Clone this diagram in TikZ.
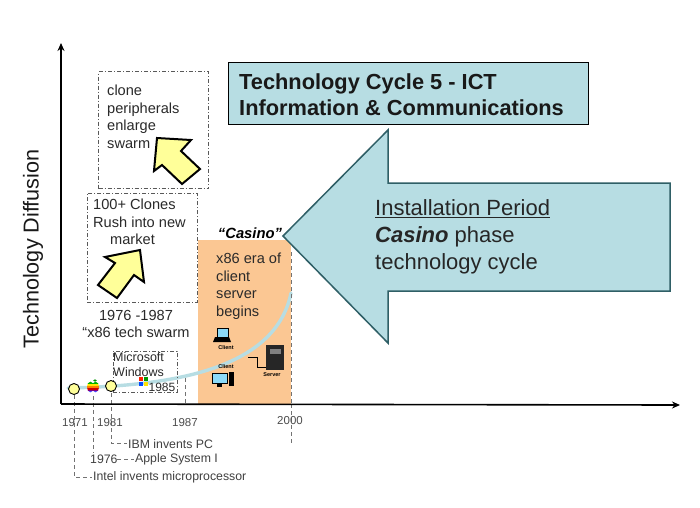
\documentclass[tikz,border=0pt]{standalone}
\usepackage{fontspec}
\setmainfont{Liberation Sans}
\usetikzlibrary{arrows.meta}
\definecolor{teal1}{HTML}{B7DDE3}
\definecolor{tealedge}{HTML}{2F5F66}
\definecolor{orng}{HTML}{FBC793}
\definecolor{yel}{HTML}{FFFF99}
\definecolor{txt}{HTML}{2A2A2A}
\tikzset{
  dashbox/.style={draw=black!65,line width=.7pt,dash pattern=on 4pt off 2pt on 1pt off 2pt},
  dline/.style={draw=black!55,line width=.7pt,dash pattern=on 4pt off 3pt},
  lbl/.style={inner sep=0pt,text=txt,font=\fontsize{14.6}{17.5}\selectfont,align=left},
  smalllbl/.style={inner sep=0pt,text=black!75,font=\fontsize{12.3}{14}\selectfont},
  tick/.style={inner sep=0pt,text=black!70,font=\fontsize{11.5}{13}\selectfont},
  yarrow/.style={draw=black,fill=yel,line width=2pt,line join=miter},
  dot/.style={circle,draw=black,fill=yel,line width=.9pt,minimum size=11pt,inner sep=0pt},
  axis/.style={draw=black,line width=1.6pt,-{Stealth[length=8pt,width=7pt]}},
  tiny/.style={inner sep=0pt,font=\bfseries\fontsize{5.5}{6}\selectfont}
}
\begin{document}
\begin{tikzpicture}[x=1pt,y=-1pt]
\useasboundingbox (0,0) rectangle (700,507);
\fill[white] (0,0) rectangle (700,507);
% orange panel
\fill[orng] (198,240) rectangle (291,404);
\coordinate (o) at (61,404);
\coordinate (ytop) at (61,43);
\coordinate (xend) at (680,405);
% curve
\coordinate (c0) at (68,388);
\coordinate (c1) at (291,293);
\draw[teal1,line width=3.4pt,line cap=round] (c0) .. controls (165,386) and (275,372) .. (c1);
% dashed boxes
\node[dashbox,minimum width=110pt,minimum height=117pt,inner sep=0pt] (b1) at (153.5,130) {};
\node[dashbox,minimum width=110pt,minimum height=109pt,inner sep=0pt] (b2) at (142,247.5) {};
\node[dashbox,minimum width=64pt,minimum height=41pt,inner sep=0pt] (b3) at (145,371.5) {};
\node[lbl,anchor=north west] (t1) at (107,85) {clone\\peripherals\\enlarge\\swarm};
\node[lbl,anchor=north west] (t2) at (93,199) {100+ Clones\\Rush into new\\\hspace{17pt}market};
\node[lbl,align=center] (t3) at (136,324) {1976 -1987\\“x86 tech swarm};
\node[lbl,anchor=north west,font=\fontsize{12.5}{15}\selectfont] (t4) at (113,352) {Microsoft\\Windows};
\node[lbl,font=\fontsize{12}{14}\selectfont] (t5) at (162,387) {1985};
\node[lbl,anchor=north west] (t6) at (216,253) {x86 era of\\client\\server\\begins};
\node[inner sep=0pt,font=\bfseries\itshape\fontsize{14.8}{17}\selectfont] (casino) at (250,233) {“Casino”};
% yellow arrows
\draw[yarrow] (157,138) -- (191,140) -- (181,151) -- (200,169) -- (182,184) -- (162,165) -- (154,171) -- cycle;
\draw[yarrow] (140,250) -- (144,282) -- (134,275) -- (117,298) -- (98,285) -- (115,263) -- (105,257) -- cycle;
% dashed leader lines
\coordinate (d71a) at (74,395); \coordinate (d71b) at (74,477);
\coordinate (d71c) at (92,477);
\coordinate (d76a) at (93,396); \coordinate (d76b) at (93,453);
\coordinate (d81a) at (111,393); \coordinate (d81b) at (111,443); \coordinate (d81c) at (127,443);
\coordinate (d87a) at (185,378); \coordinate (d87b) at (185,404);
\coordinate (d00a) at (291,404); \coordinate (d00b) at (291,443);
\coordinate (d76c) at (117,459); \coordinate (d76d) at (134,459);
\draw[dline] (d71a) -- (d71b) -- (d71c);
\draw[dline] (d76a) -- (d76b);
\draw[dline] (d81a) -- (d81b) -- (d81c);
\draw[dline] (d87a) -- (d87b);
\draw[dline] (d00a) -- (d00b);
\draw[dline] (291,252) -- (291,404);
\draw[dline] (d76c) -- (d76d);
% axes
\draw[axis] (o) -- (ytop);
\draw[axis] (o) -- (xend);
% dots
\node[dot] (n71) at (74,389) {};
\node[dot] (n81) at (111,386) {};
% apple
\fill[green!60!black] (95,380.5) ellipse (1.8pt and 1.2pt);
\begin{scope}
\clip (90.5,387) ellipse (3.6pt and 5.3pt) (95.5,387) ellipse (3.6pt and 5.3pt);
\fill[green!70!black] (87,381) rectangle (100,384);
\fill[yellow!90!orange] (87,384) rectangle (100,385.5);
\fill[orange] (87,385.5) rectangle (100,387.5);
\fill[red!80!black] (87,387.5) rectangle (100,389.5);
\fill[violet] (87,389.5) rectangle (100,391);
\fill[blue!70] (87,391) rectangle (100,393);
\end{scope}
% windows logo
\fill[red!75!orange] (139,377) rectangle (143,381);
\fill[green!60!black] (143.6,377) rectangle (147.6,381);
\fill[blue!70!cyan] (139,381.6) rectangle (143,385.6);
\fill[yellow!85!orange] (143.6,381.6) rectangle (147.6,385.6);
% tick labels
\node[tick] (y71) at (75,423) {1971};
\node[tick] (y81) at (110,423) {1981};
\node[tick] (y87) at (185,423) {1987};
\node[tick] (y00) at (290,421) {2000};
\node[smalllbl,anchor=west] (l81) at (128,444) {IBM invents PC};
\node[smalllbl,anchor=west] (l76a) at (90,459) {1976};
\node[smalllbl,anchor=west] (l76b) at (135,459) {Apple System I};
\node[smalllbl,anchor=west] (l71) at (93,477) {Intel invents microprocessor};
% client icons
\fill[black] (215,337) -- (229,337) -- (231,342) -- (213,342) -- cycle;
\draw[black,fill=cyan!45,line width=.8pt] (217,328) rectangle (228,337);
\node[tiny] (cl1) at (226,348) {Client};
\node[tiny] (cl2) at (226,367) {Client};
\draw[black,fill=cyan!45,line width=.6pt] (212,373) rectangle (227,383);
\fill[black] (217,383) rectangle (222,387);
\fill[black] (229,372) rectangle (234,386);
\fill[black!85] (266,345) rectangle (284,370);
\fill[black!50] (270,349) rectangle (281,354);
\node[tiny] (srv) at (272,375) {Server};
\draw[black,line width=1pt] (248,357) -- (257,357) -- (257,367) -- (266,367);
% title box
\node[draw=black,line width=1pt,fill=teal1,minimum width=360pt,minimum height=62pt,inner sep=0pt] (title) at (408,93) {};
\node[anchor=west,inner sep=0pt,align=left,font=\bfseries\fontsize{21.8}{25.5}\selectfont,text=black!90] (titletext) at (239,94.5) {Technology Cycle 5 - ICT\\Information \& Communications};
% big arrow
\draw[fill=teal1,draw=tealedge,line width=1.5pt] (283,236) -- (388,130) -- (388,183) -- (670,183) -- (670,291) -- (388,291) -- (388,343) -- cycle;
\node[anchor=north west,inner sep=0pt,align=left,text=black!85,font=\fontsize{22}{27}\selectfont] (bigtext) at (375,199.5) {\underline{Installation Period}\\\textbf{\textit{Casino}} phase\\technology cycle};
% y label
\node[rotate=90,inner sep=0pt,font=\fontsize{21.6}{25}\selectfont,text=black!90] (ylab) at (33,249) {Technology Diffusion};
\end{tikzpicture}
\end{document}
